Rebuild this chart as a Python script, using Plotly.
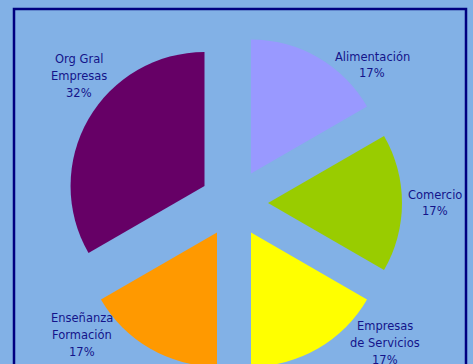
import plotly.graph_objects as go

# ---- data ----
categories = ["Alimentación", "Comercio", "Empresas de Servicios",
              "Enseñanza Formación", "Org Gral Empresas"]
label_lines = [["Alimentación"], ["Comercio"], ["Empresas", "de Servicios"],
               ["Enseñanza", "Formación"], ["Org Gral", "Empresas"]]
# slice sizes as measured from the slice angles (60° each, 120° for the last)
values = [17, 17, 17, 17, 34]
# percentages as printed on the chart
percent_labels = ["17%", "17%", "17%", "17%", "32%"]

# ---- styles / layout ----
colors = ["#9999FF", "#99CC00", "#FFFF00", "#FF9900", "#660066"]
pulls = [0.254, 0.254, 0.254, 0.254, 0.254]
label_centers_px = [(372, 65), (435, 203), (385, 343), (82, 335), (79, 76)]
W, H = 473, 371          # figure slightly taller than the 364px window (bottom is cropped)
PIE_BOX = 336            # pixel height of the pie domain box
BG = "#82B1E6"
NAVY = "#000080"
TEXT = "#14148A"
LINE_GAP = 16.7

fig = go.Figure(go.Pie(
    labels=categories,
    values=values,
    marker=dict(colors=colors, line=dict(width=0)),
    pull=pulls,
    sort=False,
    direction="clockwise",
    rotation=0,
    textinfo="none",
    hoverinfo="label",
    showlegend=False,
    domain=dict(x=[0, 0.9894], y=[0, PIE_BOX / H]),
))

annotations = []
for lines, pct, (cx, cy) in zip(label_lines, percent_labels, label_centers_px):
    all_lines = lines + [pct]
    n = len(all_lines)
    for j, t in enumerate(all_lines):
        y = cy + (j - (n - 1) / 2) * LINE_GAP
        annotations.append(dict(
            x=cx / W, y=1 - y / H, xref="paper", yref="paper",
            text=t, showarrow=False, xanchor="center", yanchor="middle",
            font=dict(family="DejaVu Sans", size=11.5, color=TEXT),
        ))

fig.update_layout(
    width=W, height=H,
    margin=dict(l=0, r=0, t=0, b=0),
    paper_bgcolor=BG, plot_bgcolor=BG,
    annotations=annotations,
    shapes=[dict(type="rect", xref="paper", yref="paper",
                 x0=14 / W, x1=466 / W, y0=-0.2, y1=1 - 9 / H,
                 line=dict(color=NAVY, width=2.5), layer="below")],
)

fig.write_html(
    "out.html",
    config={"displayModeBar": False},
    post_script=(
        "document.body.style.margin='0';"
        "document.body.style.overflow='hidden';"
        f"document.body.style.background='{BG}';"
    ),
)
